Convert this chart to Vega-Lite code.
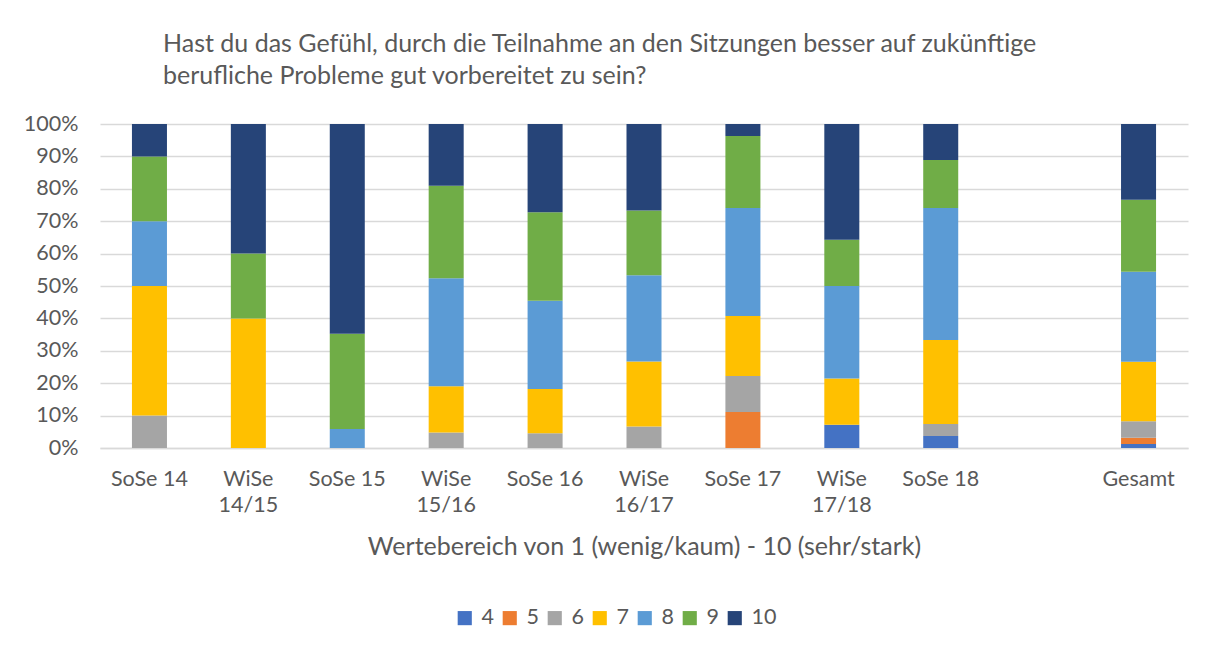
{
  "$schema": "https://vega.github.io/schema/vega-lite/v6.json",
  "width": 1088,
  "height": 324,
  "autosize": {"type": "none"},
  "padding": {"left": 100, "top": 124, "right": 24, "bottom": 205},
  "background": "white",
  "config": {
    "font": "Lato",
    "view": {"stroke": null},
    "axis": {"labelColor": "#595959", "titleColor": "#595959", "labelFont": "Lato", "titleFont": "Lato"}
  },
  "title": {
    "text": ["Hast du das Gefühl, durch die Teilnahme an den Sitzungen besser auf zukünftige", "berufliche Probleme gut vorbereitet zu sein?"],
    "anchor": "start",
    "frame": "group",
    "dx": 63,
    "offset": 24,
    "fontSize": 25,
    "fontWeight": "normal",
    "color": "#595959",
    "font": "Lato",
    "lineHeight": 32
  },
  "data": {
    "values": [
      {"sem": "SoSe 14", "wert": 6, "n": 1},
      {"sem": "SoSe 14", "wert": 7, "n": 4},
      {"sem": "SoSe 14", "wert": 8, "n": 2},
      {"sem": "SoSe 14", "wert": 9, "n": 2},
      {"sem": "SoSe 14", "wert": 10, "n": 1},
      {"sem": "WiSe 14/15", "wert": 7, "n": 2},
      {"sem": "WiSe 14/15", "wert": 9, "n": 1},
      {"sem": "WiSe 14/15", "wert": 10, "n": 2},
      {"sem": "SoSe 15", "wert": 8, "n": 1},
      {"sem": "SoSe 15", "wert": 9, "n": 5},
      {"sem": "SoSe 15", "wert": 10, "n": 11},
      {"sem": "WiSe 15/16", "wert": 6, "n": 1},
      {"sem": "WiSe 15/16", "wert": 7, "n": 3},
      {"sem": "WiSe 15/16", "wert": 8, "n": 7},
      {"sem": "WiSe 15/16", "wert": 9, "n": 6},
      {"sem": "WiSe 15/16", "wert": 10, "n": 4},
      {"sem": "SoSe 16", "wert": 6, "n": 1},
      {"sem": "SoSe 16", "wert": 7, "n": 3},
      {"sem": "SoSe 16", "wert": 8, "n": 6},
      {"sem": "SoSe 16", "wert": 9, "n": 6},
      {"sem": "SoSe 16", "wert": 10, "n": 6},
      {"sem": "WiSe 16/17", "wert": 6, "n": 1},
      {"sem": "WiSe 16/17", "wert": 7, "n": 3},
      {"sem": "WiSe 16/17", "wert": 8, "n": 4},
      {"sem": "WiSe 16/17", "wert": 9, "n": 3},
      {"sem": "WiSe 16/17", "wert": 10, "n": 4},
      {"sem": "SoSe 17", "wert": 5, "n": 3},
      {"sem": "SoSe 17", "wert": 6, "n": 3},
      {"sem": "SoSe 17", "wert": 7, "n": 5},
      {"sem": "SoSe 17", "wert": 8, "n": 9},
      {"sem": "SoSe 17", "wert": 9, "n": 6},
      {"sem": "SoSe 17", "wert": 10, "n": 1},
      {"sem": "WiSe 17/18", "wert": 4, "n": 1},
      {"sem": "WiSe 17/18", "wert": 7, "n": 2},
      {"sem": "WiSe 17/18", "wert": 8, "n": 4},
      {"sem": "WiSe 17/18", "wert": 9, "n": 2},
      {"sem": "WiSe 17/18", "wert": 10, "n": 5},
      {"sem": "SoSe 18", "wert": 4, "n": 1},
      {"sem": "SoSe 18", "wert": 6, "n": 1},
      {"sem": "SoSe 18", "wert": 7, "n": 7},
      {"sem": "SoSe 18", "wert": 8, "n": 11},
      {"sem": "SoSe 18", "wert": 9, "n": 4},
      {"sem": "SoSe 18", "wert": 10, "n": 3},
      {"sem": "Gesamt", "wert": 4, "n": 2},
      {"sem": "Gesamt", "wert": 5, "n": 3},
      {"sem": "Gesamt", "wert": 6, "n": 8},
      {"sem": "Gesamt", "wert": 7, "n": 29},
      {"sem": "Gesamt", "wert": 8, "n": 44},
      {"sem": "Gesamt", "wert": 9, "n": 35},
      {"sem": "Gesamt", "wert": 10, "n": 37}
    ]
  },
  "mark": {"type": "bar"},
  "encoding": {
    "x": {
      "field": "sem",
      "type": "nominal",
      "scale": {
        "domain": ["SoSe 14", "WiSe 14/15", "SoSe 15", "WiSe 15/16", "SoSe 16", "WiSe 16/17", "SoSe 17", "WiSe 17/18", "SoSe 18", " ", "Gesamt"],
        "paddingInner": 0.646,
        "paddingOuter": 0.323
      },
      "axis": {
        "title": "Wertebereich von 1 (wenig/kaum) - 10 (sehr/stark)",
        "titleFontSize": 25,
        "titleFontWeight": "normal",
        "titlePadding": 19,
        "labelAngle": 0,
        "labelFontSize": 21.5,
        "labelPadding": 20,
        "labelLineHeight": 26,
        "labelExpr": "indexof(datum.label, 'WiSe') == 0 ? split(datum.label, ' ') : datum.label",
        "ticks": false,
        "domain": true,
        "domainColor": "#D9D9D9",
        "domainWidth": 1.5,
        "grid": false
      }
    },
    "y": {
      "aggregate": "sum",
      "field": "n",
      "type": "quantitative",
      "stack": "normalize",
      "scale": {"domain": [0, 1]},
      "axis": {
        "title": null,
        "format": ".0%",
        "values": [0, 0.1, 0.2, 0.3, 0.4, 0.5, 0.6, 0.7, 0.8, 0.9, 1],
        "labelOverlap": false,
        "labelFontSize": 21.5,
        "labelPadding": 22,
        "ticks": false,
        "domain": false,
        "grid": true,
        "gridColor": "#D9D9D9",
        "gridWidth": 1.5
      }
    },
    "color": {
      "field": "wert",
      "type": "nominal",
      "scale": {
        "domain": [4, 5, 6, 7, 8, 9, 10],
        "range": ["#4472C4", "#ED7D31", "#A5A5A5", "#FFC000", "#5B9BD5", "#70AD47", "#264478"]
      },
      "legend": {
        "title": null,
        "orient": "none",
        "legendX": 354,
        "legendY": 483,
        "direction": "horizontal",
        "symbolType": "square",
        "symbolSize": 200,
        "symbolStrokeWidth": 0,
        "labelFontSize": 21.5,
        "labelColor": "#595959",
        "labelFont": "Lato",
        "labelOffset": 6,
        "columnPadding": 5
      }
    },
    "order": {"field": "wert", "type": "quantitative", "sort": "ascending"}
  }
}
